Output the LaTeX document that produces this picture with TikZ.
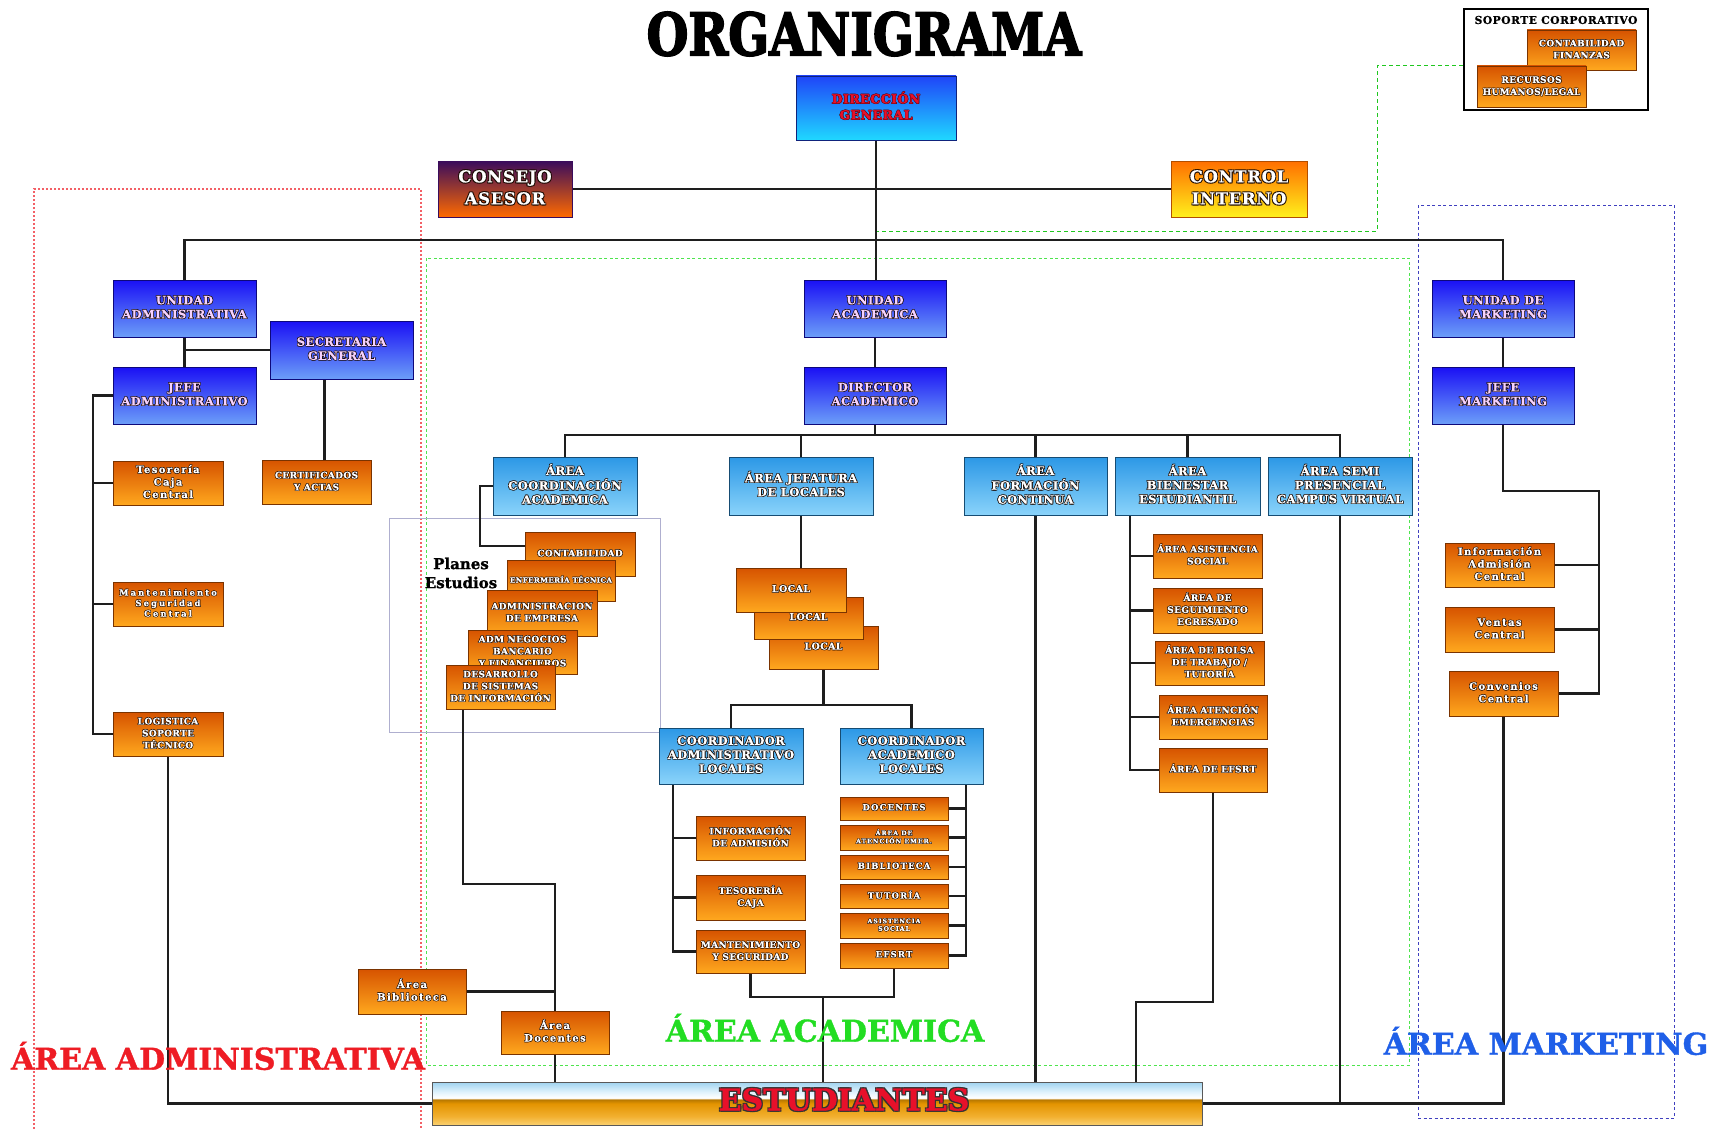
\documentclass[tikz,border=0pt]{standalone}
\usepackage{fontspec}
\usepackage{graphicx}
\setmainfont{DejaVu Serif}
\newfontfamily\bxf[LetterSpace=4,FakeBold=0.6]{DejaVu Serif}
\newfontfamily\wdf[LetterSpace=14,FakeBold=0.6]{DejaVu Serif}
\newfontfamily\wwf[LetterSpace=24,FakeBold=0.6]{DejaVu Serif}
\newfontfamily\hvf[FakeBold=1.2]{DejaVu Serif}
\newfontfamily\hhf[FakeBold=3]{DejaVu Serif}
\usetikzlibrary{calc}
\pgfdeclarelayer{bg}
\pgfsetlayers{bg,main}
\definecolor{shc}{HTML}{1C0C04}
\definecolor{lineC}{HTML}{1E1E1E}
\definecolor{bTop}{HTML}{1A10F5}
\definecolor{bBot}{HTML}{6C9EF8}
\definecolor{bTxt}{HTML}{F6D2FF}
\definecolor{dTop}{HTML}{1F45F8}
\definecolor{dBot}{HTML}{1FD8FF}
\definecolor{dTxt}{HTML}{E8102A}
\definecolor{sTop}{HTML}{2C98E6}
\definecolor{sBot}{HTML}{8AD3FA}
\definecolor{oTop}{HTML}{D65300}
\definecolor{oBot}{HTML}{FFA81E}
\definecolor{oBrd}{HTML}{7A3300}
\definecolor{cTop}{HTML}{3A0C5C}
\definecolor{cBot}{HTML}{FF6A00}
\definecolor{kTop}{HTML}{FF6F00}
\definecolor{kBot}{HTML}{FFF01C}
\definecolor{admRed}{HTML}{EE1C24}
\definecolor{acaGreen}{HTML}{22DD22}
\definecolor{mkBlue}{HTML}{1F5FE8}
\definecolor{eY0}{HTML}{FAD070}
\definecolor{eY1}{HTML}{F2B030}
\definecolor{eY2}{HTML}{E39400}
\definecolor{eY3}{HTML}{B87800}
\definecolor{eW}{HTML}{E2F3FC}
\definecolor{eB}{HTML}{9FD3F0}
\pgfdeclareverticalshading{estsh}{100bp}{color(0bp)=(eY0); color(25bp)=(eY0); color(35bp)=(eY1); color(50bp)=(eY2); color(54.5bp)=(eY3); color(56.5bp)=(white); color(63bp)=(eW); color(75bp)=(eB); color(100bp)=(eB)}
\def\so{0.6pt}
\def\shcol{shc}
\newcommand\tb[1]{\begin{tabular}{@{}c@{}}#1\end{tabular}}
\newcommand\shc[3]{\rlap{\kern#1\raisebox{#2}{\color{\shcol}\tb{#3}}}}
\newcommand\sht[1]{\shc{\so}{-\so}{#1}\shc{-\so}{\so}{#1}\shc{\so}{\so}{#1}\shc{-\so}{-\so}{#1}\tb{#1}}
\newcommand\bx[7]{\node[#2,minimum width={(#5-#3)*1pt},minimum height={(#6-#4)*1pt}] (#1) at ({(#3+#5)/2},{(#4+#6)/2}) {\sht{#7}};}
\tikzset{
 base/.style={rectangle,inner sep=0pt,outer sep=0pt,line width=0.7pt},
 blu/.style={base,draw=bTop!50!black,top color=bTop,bottom color=bBot,text=bTxt,font={\def\so{0.55pt}\bxf\bfseries\fontsize{11.5}{14}\selectfont}},
 dgs/.style={base,draw=dTop!50!black,top color=dTop,bottom color=dBot,text=dTxt,font={\def\so{0.4pt}\def\shcol{dTxt!40!black}\bxf\bfseries\fontsize{12.5}{16}\selectfont}},
 cons/.style={base,draw=cTop,top color=cTop,bottom color=cBot,text=white,font={\def\so{0.8pt}\bxf\bfseries\fontsize{16.5}{22}\selectfont}},
 ctrl/.style={base,draw=kTop!70!black,top color=kTop,bottom color=kBot,text=white,font={\def\so{0.8pt}\bxf\bfseries\fontsize{16.5}{22}\selectfont}},
 sky/.style={base,draw=sTop!50!black,top color=sTop,bottom color=sBot,text=white,font={\def\so{0.6pt}\bxf\bfseries\fontsize{11.5}{14}\selectfont}},
 org/.style={base,draw=oBrd,top color=oTop,bottom color=oBot,text=white,font={\def\so{0.5pt}\bxf\bfseries\fontsize{9}{12}\selectfont}},
 orgw/.style={org,font={\def\so{0.5pt}\wdf\bfseries\fontsize{10}{12.5}\selectfont}},
 orgws/.style={org,font={\def\so{0.45pt}\wwf\bfseries\fontsize{8.5}{10.5}\selectfont}},
 orgp/.style={org,font={\def\so{0.5pt}\bxf\bfseries\fontsize{9}{12}\selectfont}},
 orgl/.style={org,font={\def\so{0.5pt}\bxf\bfseries\fontsize{9.5}{10}\selectfont}},
 orgs/.style={org,font={\def\so{0.5pt}\wdf\bfseries\fontsize{8.5}{9}\selectfont}},
 orgxs/.style={org,font={\def\so{0.4pt}\wdf\bfseries\fontsize{6.3}{7.6}\selectfont}},
 ln/.style={line width=2.2pt,draw=lineC},
 lab/.style={font=\hvf\bfseries\fontsize{30}{32}\selectfont,inner sep=0pt},
 redfr/.style={draw=admRed!70!white,line width=1.3pt,dash pattern=on 2pt off 2pt},
 grnfr/.style={draw=acaGreen!80!white,line width=0.9pt,dash pattern=on 3pt off 2.5pt},
 blufr/.style={draw=blue!50!gray,line width=1pt,dash pattern=on 3pt off 2.5pt},
 plfr/.style={draw=blue!25!gray!50,line width=0.7pt},
 gdash/.style={draw=acaGreen!90!black,line width=1pt,dash pattern=on 4pt off 3pt}
}
\begin{document}
\begin{tikzpicture}[x=1pt,y=-1pt]
\useasboundingbox (0,0) rectangle (1713,1129);
% ---------- title
\node[font=\hhf\bfseries\fontsize{48}{50}\selectfont,inner sep=0pt] (title) at (864,34) {\scalebox{1}[1.22]{ORGANIGRAMA}};
% ---------- top
\bx{dg}{dgs}{796}{76}{956}{140}{DIRECCIÓN\\GENERAL}
\bx{ca}{cons}{438}{161}{572}{217}{CONSEJO\\ASESOR}
\bx{ci}{ctrl}{1171}{161}{1307}{217}{CONTROL\\INTERNO}
% ---------- soporte corporativo
\node[draw=black,line width=2.4pt,fill=white,minimum width=184pt,minimum height=101pt,inner sep=0pt] (sop) at (1556,59.5) {};
\node[font=\bxf\bfseries\fontsize{10.8}{11}\selectfont,inner sep=0pt] (soptit) at (1556,20) {SOPORTE CORPORATIVO};
\bx{cf}{org}{1527}{30}{1636}{70}{CONTABILIDAD\\FINANZAS}
\bx{rh}{org}{1477}{66}{1586}{107}{RECURSOS\\HUMANOS/LEGAL}
% ---------- administrative column
\bx{uadm}{blu}{113}{280}{256}{337}{UNIDAD\\ADMINISTRATIVA}
\bx{sec}{blu}{270}{321}{413}{379}{SECRETARIA\\GENERAL}
\bx{jadm}{blu}{113}{367}{256}{424}{JEFE\\ADMINISTRATIVO}
\bx{tes}{orgw}{113}{461}{223}{505}{Tesorería\\Caja\\Central}
\bx{cert}{org}{262}{460}{371}{504}{CERTIFICADOS\\Y ACTAS}
\bx{mant}{orgws}{113}{582}{223}{626}{Mantenimiento\\Seguridad\\Central}
\bx{log}{org}{113}{712}{223}{756}{LOGISTICA\\SOPORTE\\TÉCNICO}
% ---------- academic
\bx{ua}{blu}{804}{280}{946}{337}{UNIDAD\\ACADEMICA}
\bx{dir}{blu}{804}{367}{946}{424}{DIRECTOR\\ACADEMICO}
\bx{a1}{sky}{493}{457}{637}{515}{ÁREA\\COORDINACIÓN\\ACADEMICA}
\bx{a2}{sky}{729}{457}{873}{515}{ÁREA JEFATURA\\DE LOCALES}
\bx{a3}{sky}{964}{457}{1107}{515}{ÁREA\\FORMACIÓN\\CONTINUA}
\bx{a4}{sky}{1115}{457}{1260}{515}{ÁREA\\BIENESTAR\\ESTUDIANTIL}
\bx{a5}{sky}{1268}{457}{1412}{515}{ÁREA SEMI\\PRESENCIAL\\CAMPUS VIRTUAL}
% plans
\bx{pc1}{orgp}{525}{532}{635}{576}{CONTABILIDAD}
\bx{pc2}{orgp,font={\def\so{0.45pt}\bxf\bfseries\fontsize{7.2}{8}\selectfont}}{507}{560}{615}{601}{ENFERMERÍA TÉCNICA}
\bx{pc3}{orgp}{487}{590}{597}{636}{ADMINISTRACION\\DE EMPRESA}
\bx{pc4}{orgp}{468}{630}{577}{674}{ADM NEGOCIOS\\BANCARIO\\Y FINANCIEROS}
\bx{pc5}{orgp}{446}{665}{555}{709}{DESARROLLO\\DE SISTEMAS\\DE INFORMACIÓN}
\node[font=\hvf\bfseries\fontsize{15}{19}\selectfont,align=center,inner sep=0pt] (plt) at (461,573) {Planes\\Estudios};
% locals
\bx{l3}{orgl}{769}{626}{878}{669}{LOCAL}
\bx{l2}{orgl}{754}{597}{863}{639}{LOCAL}
\bx{l1}{orgl}{736}{568}{846}{612}{LOCAL}
\bx{cadm}{sky}{659}{728}{803}{784}{COORDINADOR\\ADMINISTRATIVO\\LOCALES}
\bx{cacad}{sky}{840}{728}{983}{784}{COORDINADOR\\ACADEMICO\\LOCALES}
\bx{ia}{org}{696}{816}{805}{860}{INFORMACIÓN\\DE ADMISIÓN}
\bx{tc}{org}{696}{875}{805}{920}{TESORERÍA\\CAJA}
\bx{ms}{org}{696}{930}{805}{973}{MANTENIMIENTO\\Y SEGURIDAD}
\bx{d1}{orgs}{840}{797}{948}{820}{DOCENTES}
\bx{d2}{orgxs}{840}{825}{948}{850}{ÁREA DE\\ATENCIÓN EMER.}
\bx{d3}{orgs}{840}{855}{948}{879}{BIBLIOTECA}
\bx{d4}{orgs}{840}{884}{948}{908}{TUTORÍA}
\bx{d5}{orgxs}{840}{913}{948}{938}{ASISTENCIA\\SOCIAL}
\bx{d6}{orgs}{840}{943}{948}{968}{EFSRT}
% bienestar
\bx{be1}{org}{1153}{534}{1262}{578}{ÁREA ASISTENCIA\\SOCIAL}
\bx{be2}{org}{1153}{588}{1262}{633}{ÁREA DE\\SEGUIMIENTO\\EGRESADO}
\bx{be3}{org}{1155}{641}{1264}{685}{ÁREA DE BOLSA\\DE TRABAJO /\\TUTORÍA}
\bx{be4}{org}{1159}{695}{1267}{739}{ÁREA ATENCIÓN\\EMERGENCIAS}
\bx{be5}{org}{1159}{748}{1267}{792}{ÁREA DE EFSRT}
% ---------- marketing
\bx{umk}{blu}{1432}{280}{1574}{337}{UNIDAD DE\\MARKETING}
\bx{jmk}{blu}{1432}{367}{1574}{424}{JEFE\\MARKETING}
\bx{iac}{orgw}{1445}{543}{1554}{587}{Información\\Admisión\\Central}
\bx{vc}{orgw}{1445}{607}{1554}{652}{Ventas\\Central}
\bx{conv}{orgw}{1449}{671}{1558}{716}{Convenios\\Central}
% ---------- bottom
\bx{abib}{orgw}{358}{969}{466}{1014}{Área\\Biblioteca}
\bx{adoc}{orgw}{501}{1011}{609}{1054}{Área\\Docentes}
\node[base,draw=gray!70!black,shading=estsh,minimum width=770pt,minimum height=43pt] (est) at (817,1103.5) {};
\node[text=dTxt,font={\def\so{1.1pt}\def\shcol{black!80}\hvf\bfseries\fontsize{30}{32}\selectfont},inner sep=0pt] (estt) at (844,1104) {\sht{ESTUDIANTES}};
% ---------- area labels
\node[lab,text=admRed] (lA) at (218,1056) {ÁREA ADMINISTRATIVA};
\node[lab,text=acaGreen] (lB) at (825,1028) {ÁREA ACADEMICA};
\node[lab,text=mkBlue] (lC) at (1546,1041) {ÁREA MARKETING};
% ---------- coordinates
\coordinate (abus) at (875,435);
\coordinate (k1) at (463,884);
\coordinate (k2) at (555,884);
\coordinate (lb) at (823,705);
\coordinate (cxl) at (673,0);
\coordinate (cxr) at (966,0);
\coordinate (mb) at (823,997);
\coordinate (bxx) at (1130,0);
\coordinate (q1) at (1136,1002);
\coordinate (mx) at (1599,491);
\coordinate (g1) at (1377,66);
\coordinate (g2) at (876,231);
\begin{pgfonlayer}{bg}
\fill[white] (0,0) rectangle (1713,1129);
\draw[redfr] (34,1129) -- (34,189) -- (421,189) -- (421,1129);
\draw[grnfr] (426,258) rectangle (1409,1065);
\draw[blufr] (1418,205) rectangle (1674,1118);
\draw[plfr] (389,518) rectangle (660,732);
\draw[gdash] (sop.west |- g1) -- (g1) |- (g2);
% top
\draw[ln] (dg.south) -- (dg.south |- ua.north);
\draw[ln] (ca.east) -- (ci.west);
\draw[ln] (uadm.north) -- ++(0,-40) -| (umk.north);
\draw[ln] (ua.south) -- (dir.north);
\draw[ln] (dir.south) -- (abus);
\draw[ln] (a1.north) -- (a1.north |- abus) -- (a5.north |- abus) -- (a5.north);
\draw[ln] (a2.north) -- (a2.north |- abus);
\draw[ln] (a3.north) -- (a3.north |- abus);
\draw[ln] (a4.north) -- (a4.north |- abus);
% admin
\draw[ln] (uadm.south) -- (jadm.north);
\draw[ln] (uadm.south |- sec.west) -- (sec.west);
\draw[ln] (jadm.west) -- ++(-20,0) |- (log.west);
\draw[ln] (tes.west) -- ++(-20,0);
\draw[ln] (mant.west) -- ++(-20,0);
\draw[ln] ([xshift=8pt]cert.north) -- ([xshift=8pt]cert.north |- sec.south);
\draw[ln] (log.south) |- (est.west);
% coordinacion
\draw[ln] (a1.west) -- ++(-13,0) |- ([yshift=8pt]pc1.west);
\draw[ln] (pc5.south -| k1) -- (k1) -- (k2) -- (k2 |- est.north);
\draw[ln] (abib.east) -- (abib.east -| k2);
% jefatura
\draw[ln] (a2.south) -- (a2.south |- l1.north);
\draw[ln] (l3.south) -- (l3.south |- lb);
\draw[ln] (cadm.north) -- (cadm.north |- lb) -- (cacad.north |- lb) -- (cacad.north);
\draw[ln] (cadm.south -| cxl) |- (ms.west);
\draw[ln] (ia.west) -- (ia.west -| cxl);
\draw[ln] (tc.west) -- (tc.west -| cxl);
\draw[ln] (cacad.south -| cxr) |- (d6.east);
\foreach \n in {d1,d2,d3,d4,d5} \draw[ln] (\n.east) -- (\n.east -| cxr);
\draw[ln] (ms.south) |- (mb) -| (d6.south);
\draw[ln] (mb) -- (mb |- est.north);
% formacion
\draw[ln] (a3.south) -- (a3.south |- est.north);
% bienestar
\draw[ln] (a4.south -| bxx) |- (be5.west);
\foreach \n in {be1,be2,be3,be4} \draw[ln] (\n.west) -- (\n.west -| bxx);
\draw[ln] (be5.south) |- (q1) -- (q1 |- est.north);
% semi presencial
\draw[ln] (a5.south) -- (a5.south |- est.east);
\draw[ln] (est.east) -| (conv.south);
% marketing
\draw[ln] (umk.south) -- (jmk.north);
\draw[ln] (jmk.south) |- (mx) |- (conv.east);
\draw[ln] (iac.east) -- (iac.east -| mx);
\draw[ln] (vc.east) -- (vc.east -| mx);
\end{pgfonlayer}
\end{tikzpicture}
\end{document}
